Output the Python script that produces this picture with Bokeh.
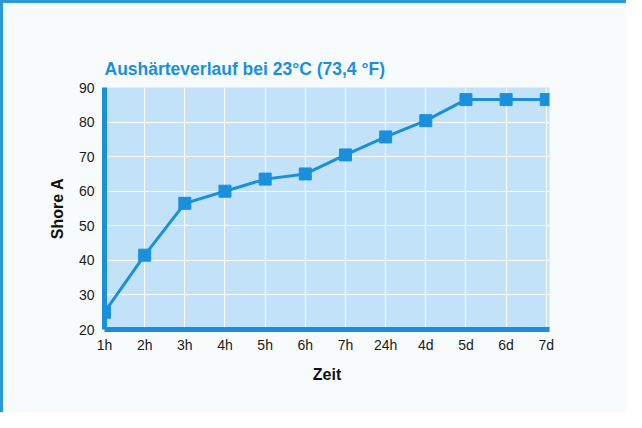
from bokeh.plotting import figure
from bokeh.models import FixedTicker, Range1d
from bokeh.embed import file_html
from bokeh.resources import INLINE

# data
zeit = ["1h", "2h", "3h", "4h", "5h", "6h", "7h", "24h", "4d", "5d", "6d", "7d"]
shore_a = [25, 41.5, 56.5, 60, 63.5, 65, 70.5, 75.7, 80.4, 86.5, 86.5, 86.5]
y_ticks = [20, 30, 40, 50, 60, 70, 80, 90]

BLUE = "#1a90dd"
BG = "#c2e2fa"
SANS = "Liberation Sans"

xs = list(range(len(zeit)))

p = figure(width=626, height=412, output_backend="svg", toolbar_location=None,
           x_range=Range1d(0, len(zeit) - 0.92), y_range=Range1d(20, 90),
           min_border_left=101, min_border_right=80, min_border_top=84, min_border_bottom=86)

p.styles = {"border-top": "3px solid #2a9ad8", "border-left": "3px solid #2a9ad8",
            "box-sizing": "border-box"}

p.background_fill_color = BG
p.border_fill_color = "#f8fbfb"
p.outline_line_color = None

p.title.text = "Aushärteverlauf bei 23°C (73,4 °F)"
p.title.text_color = BLUE
p.title.text_font = SANS
p.title.text_font_size = "17.5px"
p.title.text_font_style = "bold"
p.title.align = "left"
p.title.standoff = 18

p.xgrid.grid_line_color = "white"
p.ygrid.grid_line_color = "white"
p.xgrid.grid_line_width = 1
p.ygrid.grid_line_width = 1

p.xaxis.ticker = FixedTicker(ticks=xs)
p.xaxis.major_label_overrides = {i: s for i, s in enumerate(zeit)}
p.yaxis.ticker = FixedTicker(ticks=y_ticks)

for ax in (p.xaxis, p.yaxis):
    ax.axis_line_color = BLUE
    ax.axis_line_width = 5
    ax.major_tick_line_color = None
    ax.minor_tick_line_color = None
    ax.major_label_text_font = SANS
    ax.major_label_text_font_size = "14px"
    ax.major_label_text_color = "#1a1a1a"
    ax.axis_label_text_font = SANS
    ax.axis_label_text_font_size = "16px"
    ax.axis_label_text_font_style = "bold"
    ax.axis_label_text_color = "#111111"

p.xaxis.axis_label = "Zeit"
p.yaxis.axis_label = "Shore A"
p.xaxis.major_label_standoff = 1
p.yaxis.major_label_standoff = 4
p.xaxis.axis_label_standoff = 10
p.yaxis.axis_label_standoff = 10

p.line(xs, shore_a, line_color=BLUE, line_width=3)
p.scatter(xs, shore_a, marker="square", size=12, fill_color=BLUE, line_color=BLUE)

open("out.html", "w").write(file_html(p, INLINE))
